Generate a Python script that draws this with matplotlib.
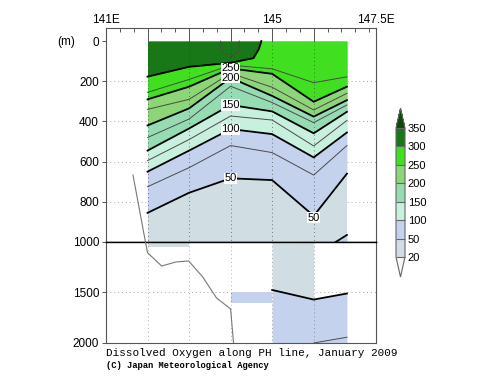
import numpy as np
import matplotlib.pyplot as plt
from matplotlib.colors import ListedColormap, BoundaryNorm
from matplotlib.cm import ScalarMappable

# Stations along the PH line (deg E);
station_lon = [142.0, 143.0, 144.0, 145.0, 146.0, 146.8]

# Depth (m) of each dissolved oxygen isoline at every station;
o2_50 = [855, 755, 683, 692, 870, 660]
o2_75 = [725, 630, 520, 555, 667, 520]
o2_100 = [650, 545, 438, 463, 579, 455]
o2_125 = [595, 490, 373, 393, 522, 395]
o2_150 = [545, 435, 318, 350, 459, 352]
o2_175 = [480, 388, 225, 306, 406, 318]
o2_200 = [420, 335, 183, 273, 376, 294]
o2_225 = [340, 290, 160, 230, 343, 260]
o2_250 = [290, 227, 136, 163, 302, 227]
o2_275 = [255, 191, 120, 138, 207, 178]

# Isolines that only cover part of the section;
o2_300_lon = [142.0, 143.0, 144.0, 144.55, 144.68, 144.74]
o2_300_depth = [177, 128, 108, 85, 40, 0]
o2_325_lon = [143.76, 143.77, 144.0, 144.2, 144.21]
o2_325_depth = [0, 50, 78, 50, 0]
o2_50_bottom_lon = [146.53, 146.8]
o2_50_bottom_depth = [1000, 965]

# Deep layer (1000-2000 m);
deep_cell_lon0 = [142.0, 144.0]
deep_cell_lon1 = [143.0, 145.0]
deep_cell_top = [1000, 1500]
deep_cell_bottom = [1045, 1600]
deep_cell_o2 = [40, 60]
deep_o2_50_lon = [145.0, 146.0, 146.8]
deep_o2_50_depth = [1475, 1570, 1510]
deep_o2_75_lon = [146.0, 146.8]
deep_o2_75_depth = [2000, 1943]

# Sea bottom along the line;
bottom_lon = [141.65, 141.95, 142.0, 142.34, 142.68, 142.99, 143.33, 143.66, 144.0, 144.07]
bottom_depth = [667, 1000, 1106, 1238, 1198, 1188, 1347, 1554, 1663, 2000]

levels = [20, 50, 100, 150, 200, 250, 300, 350]
band_colors = ['#d0dee4', '#c4d2ee', '#c8f0de', '#96dcb2', '#8cd678',
               '#40e020', '#187818']

iso = {50: o2_50, 75: o2_75, 100: o2_100, 125: o2_125, 150: o2_150,
       175: o2_175, 200: o2_200, 225: o2_225, 250: o2_250, 275: o2_275}

cmap = ListedColormap(band_colors)
cmap.set_under('#f8f8f8')
cmap.set_over('#0b4a0b')
norm = BoundaryNorm(levels, cmap.N)

plt.rcParams['font.family'] = ['Liberation Sans', 'DejaVu Sans']

fig = plt.figure(figsize=(5, 3.87), dpi=100)
ax1 = fig.add_axes([0.212, 0.3747, 0.54, 0.5529])
ax2 = fig.add_axes([0.212, 0.1137, 0.54, 0.2610])

spine_col = '#555555'
grid_style = dict(lw=0.7, ls=(0, (1, 3)))

# Upper panel;
ax1.fill_between([station_lon[0], station_lon[-1]], 0, 1000,
                 color=cmap(norm(35)), lw=0, zorder=1)
for lev in (50, 100, 150, 200, 250):
    ax1.fill_between(station_lon, 0, iso[lev], color=cmap(norm(lev + 25)),
                     lw=0, zorder=1)
ax1.fill_between(o2_300_lon, 0, o2_300_depth, color=cmap(norm(325)), lw=0, zorder=1)
ax1.fill_between(o2_50_bottom_lon, o2_50_bottom_depth, 1000,
                 color=cmap(norm(75)), lw=0, zorder=1)

for lev, depth in iso.items():
    if lev % 50 == 0:
        ax1.plot(station_lon, depth, color='black', lw=1.3, zorder=2)
    else:
        ax1.plot(station_lon, depth, color='#4a4a4a', lw=0.7, zorder=2)
ax1.plot(o2_300_lon, o2_300_depth, color='black', lw=1.3, zorder=2)
ax1.plot(o2_325_lon, o2_325_depth, color='#4a4a4a', lw=0.7, zorder=2)
ax1.plot(o2_50_bottom_lon, o2_50_bottom_depth, color='black', lw=1.3, zorder=2)

for lev in (250, 200, 150, 100, 50):
    ax1.text(station_lon[2], iso[lev][2], str(lev), ha='center', va='center',
             fontsize=8, zorder=4,
             bbox=dict(boxstyle='square,pad=0.05', fc='white', ec='none'))
ax1.text(station_lon[4], iso[50][4] + 10, '50', ha='center', va='center',
         fontsize=8, zorder=4,
         bbox=dict(boxstyle='square,pad=0.05', fc='white', ec='none'))

for d in (200, 400, 600, 800):
    ax1.axhline(d, color='#aaaaaa', zorder=0.5, **grid_style)
ax1.vlines([142, 143, 144, 145, 146], 0, 1000, color='#333333', zorder=3,
           alpha=0.6, **grid_style)
ax1.plot(bottom_lon, bottom_depth, color='#777777', lw=0.8, zorder=3)

ax1.set_xlim(141, 147.5)
ax1.set_ylim(1000, -65)
ax1.set_yticks([0, 200, 400, 600, 800])
ax1.xaxis.tick_top()
ax1.set_xticks([141, 142, 143, 144, 145, 146, 147.5])
ax1.set_xticklabels(['141E', '', '', '', '145', '', '147.5E'])
ax1.set_xticks(np.arange(141, 147.5, 1 / 3), minor=True)
ax1.tick_params(axis='x', which='major', direction='in', length=9.4, width=0.7,
                color=spine_col, pad=1.5, labelsize=8.5)
ax1.tick_params(axis='x', which='minor', direction='in', length=3, width=0.7,
                color=spine_col)
ax1.tick_params(axis='y', direction='out', length=3, width=0.7, color=spine_col,
                pad=2, labelsize=8.5)
for side in ('left', 'right', 'top'):
    ax1.spines[side].set_color(spine_col)
    ax1.spines[side].set_linewidth(0.8)
ax1.spines['bottom'].set_color('black')
ax1.spines['bottom'].set_linewidth(1.0)

# Lower panel;
for lon0, lon1, top, bot, val in zip(deep_cell_lon0, deep_cell_lon1, deep_cell_top,
                                     deep_cell_bottom, deep_cell_o2):
    ax2.bar(lon0, bot - top, width=lon1 - lon0, bottom=top, align='edge',
            color=cmap(norm(val)), lw=0, zorder=1)
dlon = np.array(deep_o2_50_lon)
ax2.fill_between(dlon, 1000, deep_o2_50_depth, where=dlon <= 146,
                 color=cmap(norm(40)), lw=0, zorder=1)
ax2.fill_between(dlon, deep_o2_50_depth, 2000, color=cmap(norm(60)), lw=0, zorder=1)
ax2.plot(deep_o2_50_lon, deep_o2_50_depth, color='black', lw=1.3, zorder=2)
ax2.plot(deep_o2_75_lon, deep_o2_75_depth, color='#4a4a4a', lw=0.7, zorder=2)

ax2.axhline(1500, color='#aaaaaa', zorder=0.5, **grid_style)
ax2.vlines([142, 143, 144, 145, 146], 1000, 2000, color='#333333', zorder=3,
           alpha=0.4, **grid_style)
ax2.plot(bottom_lon, bottom_depth, color='#777777', lw=0.8, zorder=3)

ax2.set_xlim(141, 147.5)
ax2.set_ylim(2000, 1000)
ax2.set_yticks([1000, 1500, 2000])
ax2.set_xticks([])
ax2.tick_params(axis='y', direction='out', length=3, width=0.7, color=spine_col,
                pad=2, labelsize=8.5)
for side in ('left', 'right', 'bottom'):
    ax2.spines[side].set_color(spine_col)
    ax2.spines[side].set_linewidth(0.8)
ax2.spines['top'].set_color('black')
ax2.spines['top'].set_linewidth(1.0)

fig.text(66 / 500, 1 - 42 / 387, '(m)', ha='center', va='center', fontsize=8.5)

# Colour bar;
cax = fig.add_axes([396 / 500, 1 - 277 / 387, 9 / 500, 169 / 387])
sm = ScalarMappable(norm=norm, cmap=cmap)
cbar = fig.colorbar(sm, cax=cax, extend='both', extendfrac=0.155, drawedges=True)
cbar.set_ticks(levels)
cbar.set_ticklabels([str(v) for v in levels])
cbar.ax.tick_params(length=0, pad=2, labelsize=8)
cbar.outline.set_edgecolor('#666666')
cbar.outline.set_linewidth(0.8)
cbar.dividers.set_color('#666666')
cbar.dividers.set_linewidth(0.8)

fig.text(0.212, 1 - 353 / 387, 'Dissolved Oxygen along PH line, January 2009',
         ha='left', va='center', fontsize=7.9, family='Liberation Mono')
fig.text(0.212, 1 - 366 / 387, '(C) Japan Meteorological Agency',
         ha='left', va='center', fontsize=6.3, family='Liberation Mono',
         weight='bold')

fig.savefig('out.png', dpi=100)
